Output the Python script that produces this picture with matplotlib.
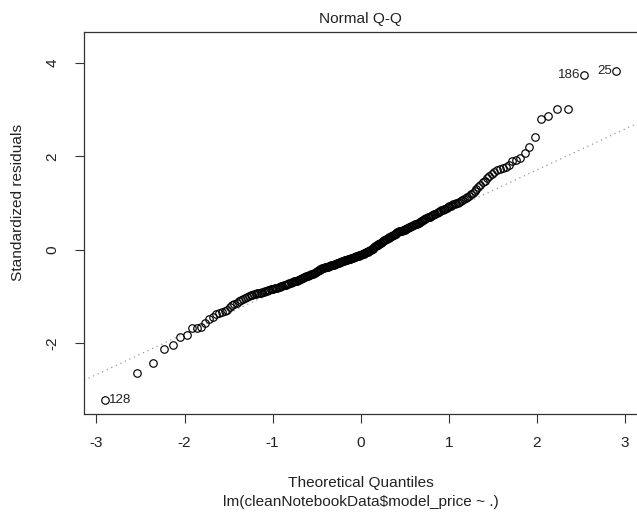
import matplotlib
matplotlib.use("Agg")
import matplotlib.pyplot as plt
from statistics import NormalDist

plt.rcParams['font.family'] = ['Liberation Sans', 'DejaVu Sans']

# Sorted standardized residuals
residuals = [
    -3.22, -2.64, -2.42, -2.12, -2.05, -1.86, -1.82, -1.68, -1.67, -1.66,
    -1.58, -1.49, -1.44, -1.38, -1.36, -1.34, -1.31, -1.29, -1.22, -1.18,
    -1.16, -1.15, -1.10, -1.07, -1.05, -1.03, -1.01, -1.00, -0.98, -0.96,
    -0.95, -0.94, -0.93, -0.93, -0.92, -0.91, -0.90, -0.89, -0.88, -0.86,
    -0.86, -0.85, -0.84, -0.84, -0.83, -0.82, -0.81, -0.80, -0.79, -0.78,
    -0.77, -0.76, -0.76, -0.75, -0.74, -0.73, -0.72, -0.71, -0.70, -0.69,
    -0.68, -0.68, -0.67, -0.66, -0.65, -0.64, -0.63, -0.62, -0.61, -0.60,
    -0.59, -0.58, -0.57, -0.56, -0.56, -0.55, -0.54, -0.53, -0.52, -0.51,
    -0.50, -0.49, -0.48, -0.46, -0.45, -0.44, -0.43, -0.42, -0.41, -0.40,
    -0.39, -0.39, -0.38, -0.37, -0.37, -0.36, -0.35, -0.35, -0.34, -0.33,
    -0.33, -0.32, -0.32, -0.31, -0.30, -0.30, -0.29, -0.28, -0.28, -0.27,
    -0.26, -0.26, -0.25, -0.25, -0.24, -0.23, -0.23, -0.22, -0.22, -0.21,
    -0.20, -0.20, -0.19, -0.18, -0.18, -0.17, -0.16, -0.16, -0.15, -0.14,
    -0.14, -0.13, -0.13, -0.12, -0.11, -0.11, -0.10, -0.09, -0.09, -0.08,
    -0.07, -0.06, -0.05, -0.04, -0.03, -0.02, -0.01, 0.00, 0.01, 0.02,
    0.04, 0.05, 0.07, 0.08, 0.09, 0.10, 0.12, 0.13, 0.14, 0.15,
    0.16, 0.18, 0.19, 0.20, 0.21, 0.22, 0.23, 0.25, 0.26, 0.27,
    0.28, 0.29, 0.30, 0.31, 0.32, 0.33, 0.34, 0.36, 0.37, 0.38,
    0.39, 0.39, 0.40, 0.41, 0.42, 0.42, 0.43, 0.44, 0.45, 0.46,
    0.47, 0.48, 0.49, 0.50, 0.51, 0.52, 0.53, 0.54, 0.55, 0.56,
    0.57, 0.58, 0.60, 0.61, 0.62, 0.64, 0.65, 0.66, 0.68, 0.69,
    0.70, 0.71, 0.72, 0.74, 0.75, 0.76, 0.77, 0.78, 0.80, 0.81,
    0.82, 0.84, 0.85, 0.87, 0.88, 0.90, 0.91, 0.93, 0.94, 0.96,
    0.97, 0.98, 0.99, 1.01, 1.03, 1.05, 1.07, 1.09, 1.11, 1.13,
    1.16, 1.19, 1.22, 1.25, 1.29, 1.34, 1.39, 1.44, 1.48, 1.53,
    1.58, 1.63, 1.67, 1.70, 1.73, 1.75, 1.78, 1.81, 1.89, 1.92,
    1.97, 2.08, 2.19, 2.42, 2.79, 2.86, 3.01, 3.01, 3.75, 3.82,
]

# Labelled extreme observations (observation id, rank in sorted order)
label_ids = ["128", "186", "25"]
label_ranks = [0, 268, 269]

# Reference line (qqline)
line_intercept = -0.045
line_slope = 0.877

x_ticks = [-3, -2, -1, 0, 1, 2, 3]
y_ticks = [-2, 0, 2, 4]

title = "Normal Q-Q"
x_label = "Theoretical Quantiles"
sub_caption = "lm(cleanNotebookData$model_price ~ .)"
y_label = "Standardized residuals"

# Normal scores as in R's qqnorm (ppoints for n > 10)
n = len(residuals)
nd = NormalDist()
theoretical = [nd.inv_cdf((i - 0.5) / n) for i in range(1, n + 1)]

W, H = 637, 512
fig = plt.figure(figsize=(W / 100, H / 100), dpi=100)
ax_left, ax_right, ax_top, ax_bottom = 84, 638, 31.7, 414
ax = fig.add_axes([ax_left / W, 1 - ax_bottom / H,
                   (ax_right - ax_left) / W, (ax_bottom - ax_top) / H])

ax.set_xlim(-3.1408, 3.1476)
ax.set_ylim(-3.5205, 4.6711)

ax.axline((0, line_intercept), slope=line_slope, color='#999999',
          linestyle=(0, (1, 3)), linewidth=0.9, zorder=1)

ax.plot(theoretical, residuals, linestyle='none', marker='o',
        markersize=5.4, markerfacecolor='none', markeredgecolor='black',
        markeredgewidth=0.85, zorder=2)

for lab, rk in zip(label_ids, label_ranks):
    xq, yr = theoretical[rk], residuals[rk]
    if xq < 0:
        ax.annotate(lab, (xq, yr), xytext=(3, 0), textcoords='offset points',
                    ha='left', va='center', fontsize=9.6, color='#222222')
    else:
        ax.annotate(lab, (xq, yr), xytext=(-3, 0), textcoords='offset points',
                    ha='right', va='center', fontsize=9.6, color='#222222')

ax.set_xticks(x_ticks)
ax.set_xticklabels([str(t) for t in x_ticks])
ax.set_yticks(y_ticks)
ax.set_yticklabels([str(t) for t in y_ticks])
ax.tick_params(axis='both', direction='out', length=6.5, width=0.8,
               color='#333333', labelsize=11.1, labelcolor='#222222')
ax.tick_params(axis='x', pad=9)
ax.tick_params(axis='y', pad=11, labelrotation=90)
for lbl in ax.get_yticklabels():
    lbl.set_verticalalignment('center')

for s in ax.spines.values():
    s.set_color('#333333')
    s.set_linewidth(0.9)

def ftext(x, y, s, **kw):
    fig.text(x / W, 1 - y / H, s, fontsize=11.1, color='#222222', **kw)

ftext(360.5, 19, title, ha='center', va='center')
ftext(360.7, 483, x_label, ha='center', va='center')
ftext(360.7, 502, sub_caption, ha='center', va='center')
ftext(18.5, 202, y_label, ha='center', va='center', rotation=90)

fig.savefig('out.png', dpi=100)
